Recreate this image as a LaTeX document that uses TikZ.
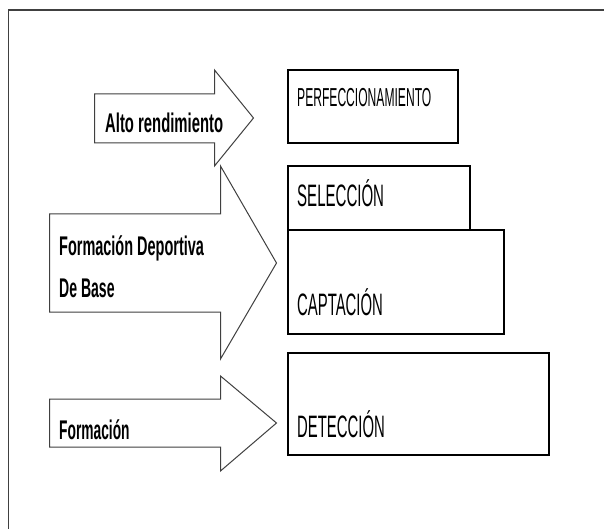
\documentclass[tikz,border=0pt]{standalone}
\usepackage{fontspec}
\setmainfont{Liberation Sans}
\begin{document}
\begin{tikzpicture}[x=1pt,y=-1pt,
  arrowshape/.style={draw=black!75,line width=1pt,fill=white,line join=miter},
  stagebox/.style={draw=black,line width=1.3pt},
  armlabel/.style={anchor=base west,inner sep=0pt,font=\fontsize{27}{29}\selectfont\bfseries},
  boxlabel/.style={anchor=base west,inner sep=0pt,font=\fontsize{31}{33}\selectfont}]
\useasboundingbox (0,0) rectangle (604,529);
\fill[white] (0,0) rectangle (604,529);
% outer frame (cropped at right and bottom)
\draw[draw=black!75,line width=1.5pt] (8.5,560) -- (8.5,10) -- (640,10);
% arrows
\draw[arrowshape] (94.5,94) -- (214.5,94) -- (214.5,70) -- (253.5,118) -- (214.5,166) -- (214.5,143) -- (94.5,143) -- cycle;
\draw[arrowshape] (49.5,214) -- (220.5,214) -- (220.5,166) -- (276.5,263) -- (220.5,359) -- (220.5,312) -- (49.5,312) -- cycle;
\draw[arrowshape] (49.5,399) -- (220.5,399) -- (220.5,376) -- (276.5,423) -- (220.5,471) -- (220.5,447) -- (49.5,447) -- cycle;
% boxes
\draw[stagebox] (288,70) rectangle (458,143);
\draw[stagebox] (288,166) rectangle (470,230);
\draw[stagebox] (288,230) rectangle (504,334);
\draw[stagebox] (288,353) rectangle (549,455);
% arrow labels
\node[armlabel] (alto) at (105,132.5) {\scalebox{0.55}[1]{Alto rendimiento}};
\node[armlabel] (fdb1) at (59,255) {\scalebox{0.536}[1]{Formación Deportiva}};
\node[armlabel] (fdb2) at (59,297) {\scalebox{0.52}[1]{De Base}};
\node[armlabel] (form) at (59,439) {\scalebox{0.51}[1]{Formación}};
% box labels
\node[boxlabel,font=\fontsize{26}{28}\selectfont] (perf) at (297,107) {\scalebox{0.465}[1]{PERFECCIONAMIENTO}};
\node[boxlabel] (sel) at (297,207) {\scalebox{0.485}[1]{SELECCIÓN}};
\node[boxlabel] (cap) at (297,315) {\scalebox{0.48}[1]{CAPTACIÓN}};
\node[boxlabel] (det) at (297,437) {\scalebox{0.48}[1]{DETECCIÓN}};
\end{tikzpicture}
\end{document}
